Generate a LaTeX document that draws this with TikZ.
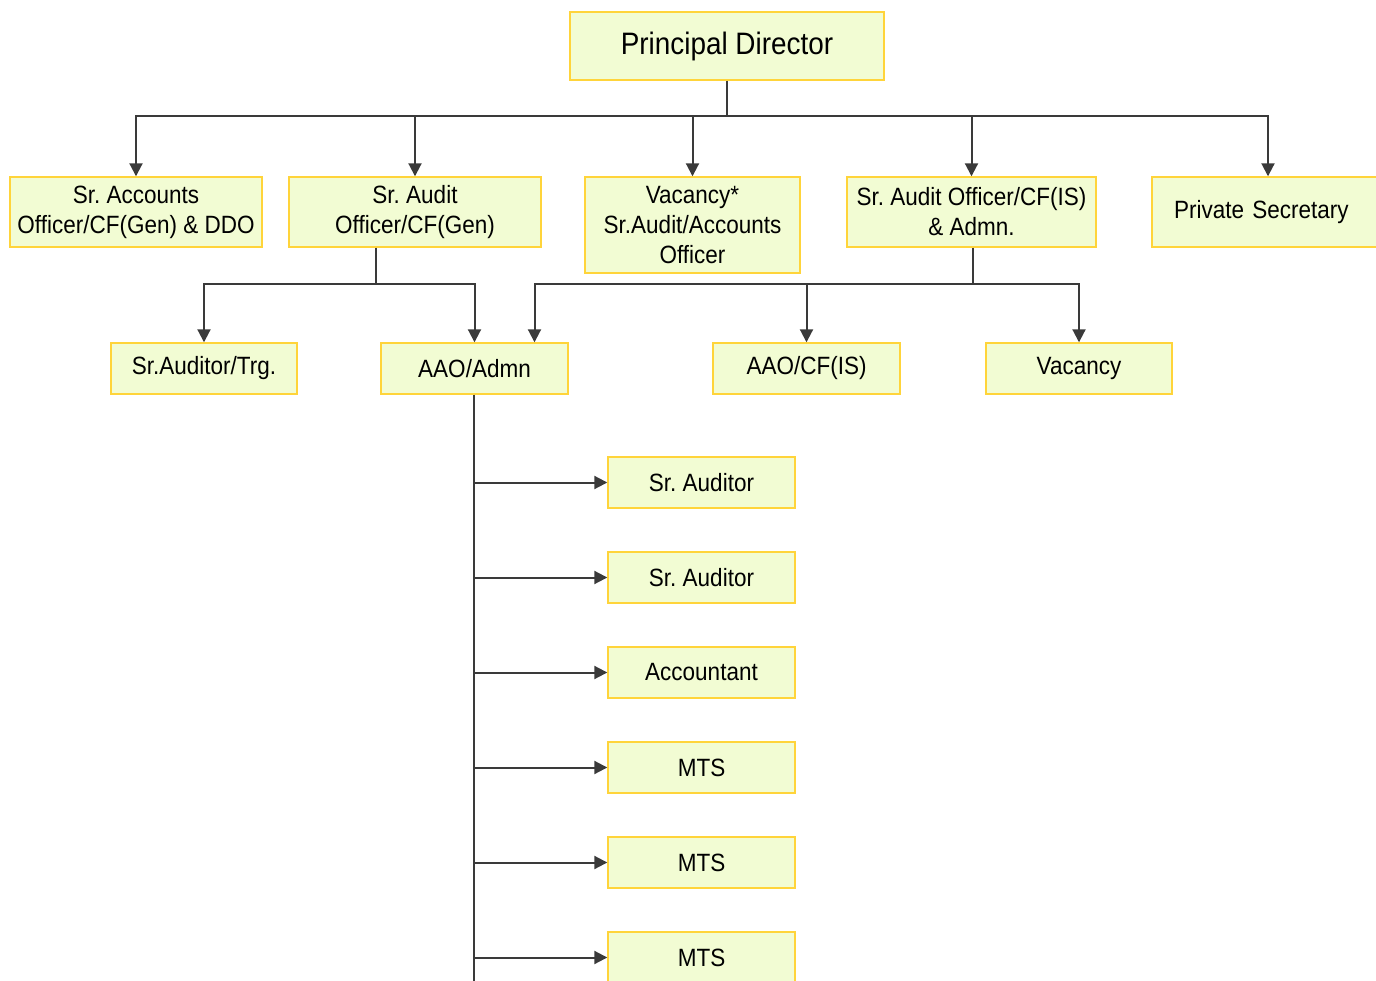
\documentclass[tikz,border=0pt]{standalone}
\usepackage{fontspec}
\setmainfont[FakeStretch=0.9]{Liberation Sans}
\usetikzlibrary{arrows.meta}
\definecolor{boxfill}{HTML}{F2FCD3}
\definecolor{boxline}{HTML}{FFD43A}
\definecolor{lineclr}{HTML}{3A3A3A}
\tikzset{
  box/.style={draw=boxline, fill=boxfill, line width=1.4pt, inner sep=0pt, align=center,
    font=\fontsize{25}{30}\selectfont, text=black},
  conn/.style={draw=lineclr, line width=2pt},
  arr/.style={conn, -{Triangle[width=13pt,length=13pt]}}
}
\begin{document}
\frenchspacing
\begin{tikzpicture}[x=1pt,y=-1pt]
\useasboundingbox (0,0) rectangle (1376,981);
\clip (0,0) rectangle (1376,981);
% nodes
\node[box, minimum width=314pt, minimum height=68pt, font=\fontsize{31}{36}\selectfont] (pd) at (727,46) {Principal Director};
\node[box, minimum width=252pt, minimum height=70pt] (sao) at (136,212) {Sr. Accounts\\Officer/CF(Gen) \& DDO};
\node[box, minimum width=252pt, minimum height=70pt] (sauo) at (415,212) {Sr. Audit\\Officer/CF(Gen)};
\node[box, minimum width=215pt, minimum height=96pt] (vac) at (692.5,225) {Vacancy*\\Sr.Audit/Accounts\\Officer};
\node[box, minimum width=249pt, minimum height=70pt] (saois) at (971.5,212) {Sr. Audit Officer/CF(IS)\\\& Admn.};
\node[box, minimum width=232pt, minimum height=70pt, text width=232pt, align=left] (ps) at (1268,212) {\hspace*{22pt}Private Secretary};
\node[box, minimum width=186pt, minimum height=51pt] (trg) at (204,368.5) {Sr.Auditor/Trg.};
\node[box, minimum width=187pt, minimum height=51pt] (aao) at (474.5,368.5) {AAO/Admn};
\node[box, minimum width=187pt, minimum height=51pt] (aaocf) at (806.5,368.5) {AAO/CF(IS)};
\node[box, minimum width=186pt, minimum height=51pt] (vacb) at (1079,368.5) {Vacancy};
\node[box, minimum width=187pt, minimum height=51pt] (sa1) at (701.5,482.5) {Sr. Auditor};
\node[box, minimum width=187pt, minimum height=51pt] (sa2) at (701.5,577.5) {Sr. Auditor};
\node[box, minimum width=187pt, minimum height=51pt] (acc) at (701.5,672.5) {Accountant};
\node[box, minimum width=187pt, minimum height=51pt] (mts1) at (701.5,767.5) {MTS};
\node[box, minimum width=187pt, minimum height=51pt] (mts2) at (701.5,862.5) {MTS};
\node[box, minimum width=187pt, minimum height=51pt] (mts3) at (701.5,957.5) {MTS};
% coordinates
\coordinate (hub) at (727,116.5);
\coordinate (b1) at (376,284);
\coordinate (b2) at (973,284);
\coordinate (vend) at (474,995);
% top level
\draw[conn] (pd.south) -- (hub);
\draw[arr] (hub) -| (sao.north);
\draw[arr] (hub) -| (sauo.north);
\draw[arr] (hub) -| (vac.north);
\draw[arr] (hub) -| (saois.north);
\draw[arr] (hub) -| (ps.north);
% second level
\draw[conn] (b1 |- sauo.south) -- (b1);
\draw[arr] (b1) -| (trg.north);
\draw[arr] (b1) -| (aao.north);
\draw[conn] (b2 |- saois.south) -- (b2);
\draw[arr] (b2) -| ([xshift=60pt]aao.north);
\draw[arr] (b2) -| (aaocf.north);
\draw[arr] (b2) -| (vacb.north);
% third level
\draw[conn] (vend |- aao.south) -- (vend);
\foreach \n in {sa1,sa2,acc,mts1,mts2,mts3}{
  \draw[arr] (vend |- \n.west) -- (\n.west);
}
\end{tikzpicture}
\end{document}
